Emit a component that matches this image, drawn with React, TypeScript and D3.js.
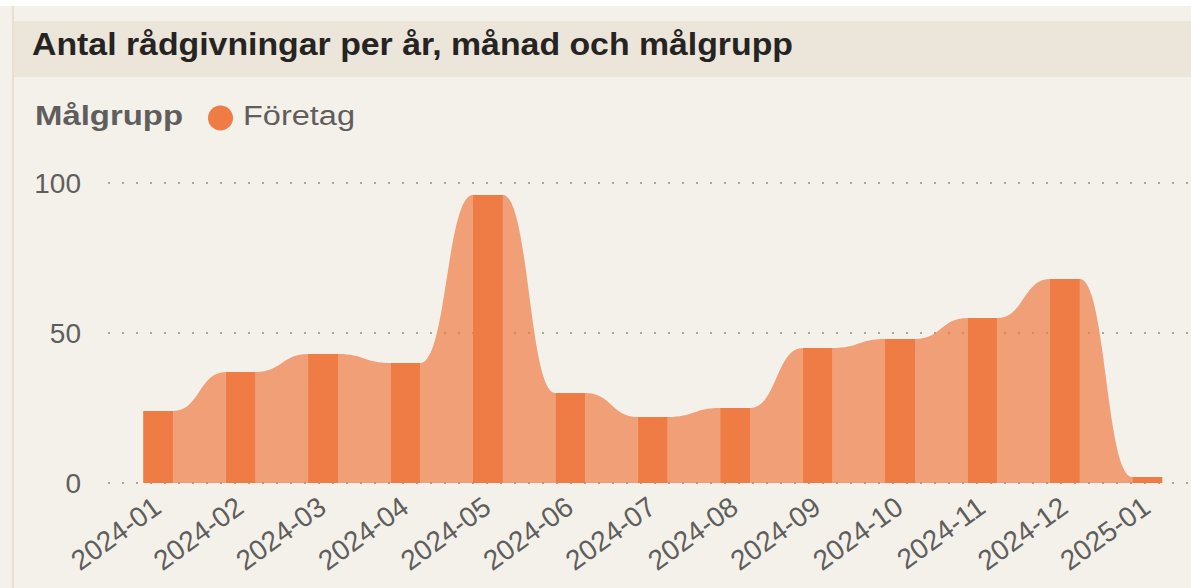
import React from "react";
import * as d3 from "d3";

const months = [
  "2024-01", "2024-02", "2024-03", "2024-04", "2024-05", "2024-06",
  "2024-07", "2024-08", "2024-09", "2024-10", "2024-11", "2024-12", "2025-01",
];
const foretagValues = [24, 37, 43, 40, 96, 30, 22, 25, 45, 48, 55, 68, 2];
const yTicks = [0, 50, 100];
const seriesName = "Företag";
const legendTitle = "Målgrupp";
const title = "Antal rådgivningar per år, månad och målgrupp";

const W = 1191;
const H = 588;
const BAR = "#EE7C44";
const TEXT_GRAY = "#605E5C";
const FONT = "'Liberation Sans', Arial, sans-serif";

export default function App() {
  const x = d3
    .scaleBand<string>()
    .domain(months)
    .range([117, 1188.5])
    .paddingInner(0.636)
    .paddingOuter(0.318);
  const y = d3.scaleLinear().domain([0, 100]).range([483, 183]);
  const bw = x.bandwidth();
  const y0 = y(0);

  const ribbons: string[] = [];
  for (let i = 0; i < months.length - 1; i++) {
    const x1 = (x(months[i]) as number) + bw;
    const x2 = x(months[i + 1]) as number;
    const y1 = y(foretagValues[i]);
    const y2 = y(foretagValues[i + 1]);
    const p = d3.path();
    p.moveTo(x1, y0);
    p.lineTo(x1, y1);
    const xm = (x1 + x2) / 2;
    p.bezierCurveTo(xm, y1, xm, y2, x2, y2);
    p.lineTo(x2, y0);
    p.closePath();
    ribbons.push(p.toString());
  }

  return (
    <svg
      width={W}
      height={H}
      style={{ position: "absolute", left: 0, top: 0, display: "block" }}
      fontFamily={FONT}
    >
      <rect x={0} y={0} width={W} height={H} fill="#FFFFFF" />
      <rect x={0} y={6} width={W} height={H - 6} fill="#F4F1EA" />
      <rect x={12} y={6} width={2} height={H - 6} fill="#E7E0D2" />
      <rect x={14} y={21} width={W - 14} height={56} fill="#ECE5D9" />
      <text
        x={32}
        y={55}
        fontSize={31}
        fontWeight="bold"
        fill="#252423"
        textLength={761}
        lengthAdjust="spacingAndGlyphs"
      >
        {title}
      </text>

      {/* legend */}
      <text
        x={35}
        y={125}
        fontSize={27}
        fontWeight="bold"
        fill={TEXT_GRAY}
        textLength={148}
        lengthAdjust="spacingAndGlyphs"
      >
        {legendTitle}
      </text>
      <circle cx={220.5} cy={118} r={12.5} fill={BAR} />
      <text
        x={243}
        y={125}
        fontSize={27}
        fill={TEXT_GRAY}
        textLength={112}
        lengthAdjust="spacingAndGlyphs"
      >
        {seriesName}
      </text>

      {/* gridlines */}
      {yTicks.map((t) => (
        <line
          key={"g" + t}
          x1={108}
          x2={W}
          y1={y(t)}
          y2={y(t)}
          stroke="#A9A59F"
          strokeWidth={2}
          strokeDasharray="2 12"
        />
      ))}

      {/* ribbons */}
      {ribbons.map((d, i) => (
        <path key={"r" + i} d={d} fill={BAR} fillOpacity={0.7} />
      ))}

      {/* bars */}
      {months.map((m, i) => (
        <rect
          key={"b" + m}
          x={x(m) as number}
          y={y(foretagValues[i])}
          width={bw}
          height={y0 - y(foretagValues[i])}
          fill={BAR}
        />
      ))}

      {/* y tick labels */}
      {yTicks.map((t) => (
        <text
          key={"yt" + t}
          x={81}
          y={y(t)}
          fontSize={28}
          fill={TEXT_GRAY}
          textAnchor="end"
          dominantBaseline="central"
        >
          {t}
        </text>
      ))}

      {/* x tick labels */}
      {months.map((m) => {
        const cx = (x(m) as number) + bw / 2 + 5;
        return (
          <text
            key={"xt" + m}
            transform={`translate(${cx},511) rotate(-36)`}
            fontSize={28}
            fill={TEXT_GRAY}
            textAnchor="end"
          >
            {m}
          </text>
        );
      })}
    </svg>
  );
}
